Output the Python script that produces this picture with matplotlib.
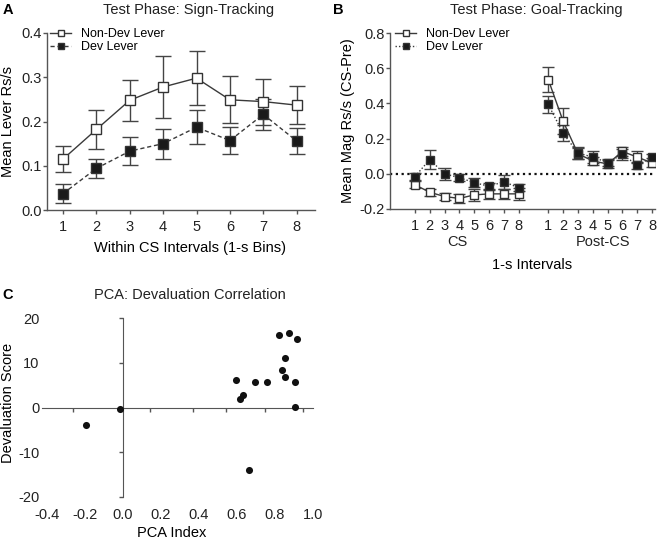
import numpy as np
import matplotlib
matplotlib.use("Agg")
import matplotlib.pyplot as plt

plt.rcParams['font.family'] = ['Liberation Sans', 'DejaVu Sans']
plt.rcParams['axes.unicode_minus'] = False

# --- A: sign-tracking (lever presses) ---
bins = [1, 2, 3, 4, 5, 6, 7, 8]
nondev_a = [0.115, 0.182, 0.248, 0.278, 0.298, 0.249, 0.245, 0.237]
nondev_a_sem = [0.030, 0.044, 0.046, 0.069, 0.061, 0.053, 0.052, 0.043]
dev_a = [0.037, 0.094, 0.133, 0.150, 0.187, 0.157, 0.216, 0.156]
dev_a_sem = [0.021, 0.021, 0.031, 0.034, 0.038, 0.031, 0.035, 0.030]

# --- B: goal-tracking (magazine entries), CS and post-CS ---
interval_labels = ['1', '2', '3', '4', '5', '6', '7', '8']
nondev_cs = [-0.062, -0.105, -0.129, -0.140, -0.120, -0.114, -0.114, -0.114]
nondev_cs_sem = [0.020, 0.020, 0.020, 0.025, 0.035, 0.030, 0.030, 0.035]
dev_cs = [-0.016, 0.081, 0.000, -0.022, -0.050, -0.071, -0.045, -0.079]
dev_cs_sem = [0.020, 0.055, 0.035, 0.020, 0.025, 0.020, 0.040, 0.020]
nondev_post = [0.535, 0.299, 0.114, 0.073, 0.056, 0.127, 0.095, 0.062]
nondev_post_sem = [0.070, 0.075, 0.030, 0.025, 0.025, 0.025, 0.035, 0.025]
dev_post = [0.394, 0.230, 0.118, 0.095, 0.064, 0.110, 0.049, 0.093]
dev_post_sem = [0.050, 0.045, 0.035, 0.035, 0.020, 0.030, 0.020, 0.020]

# --- C: PCA index vs devaluation score ---
pca_index = [-0.195, -0.016, 0.593, 0.616, 0.630, 0.695, 0.665, 0.760,
             0.821, 0.874, 0.918, 0.854, 0.837, 0.851, 0.907, 0.904]
deval_score = [-4.0, -0.4, 6.2, 1.9, 2.9, 5.8, -13.9, 5.7,
               16.2, 16.6, 15.3, 11.1, 8.3, 6.8, 5.7, 0.15]

line_col = '#3a3a3a'
axis_col = '#555555'

fig = plt.figure(figsize=(6.6, 5.39), dpi=100)
W, H = 660, 539


def px_axes(l, t, r, b):
    return fig.add_axes([l / W, 1 - b / H, (r - l) / W, (b - t) / H])


def style(ax):
    for s in ['top', 'right']:
        ax.spines[s].set_visible(False)
    for s in ['left', 'bottom']:
        ax.spines[s].set_color(axis_col)
        ax.spines[s].set_linewidth(1.0)
    ax.tick_params(colors=axis_col, labelcolor='#222222', labelsize=10.5,
                   length=3, width=1.0)


def series(ax, x, y, e, filled, ls, ms, cap):
    ax.errorbar(x, y, yerr=e, fmt='none', ecolor='#444444', elinewidth=1.0,
                capsize=cap, capthick=1.0, zorder=2)
    h, = ax.plot(x, y, color=line_col, lw=1.0, ls=ls, marker='s', ms=ms,
                 mfc='#1a1a1a' if filled else 'white', mec='#333333',
                 mew=1.0, zorder=3)
    return h


# ---------------- Panel A ----------------
axA = px_axes(47, 33, 315, 210)
style(axA)
hA1 = series(axA, bins, nondev_a, nondev_a_sem, False, '-', 6.5, 5.5)
hA2 = series(axA, bins, dev_a, dev_a_sem, True, (0, (3, 2)), 6.5, 5.5)
axA.set_xlim(0.52, 8.55)
axA.set_ylim(0, 0.4)
axA.set_xticks(bins)
axA.set_yticks([0, 0.1, 0.2, 0.3, 0.4])
axA.set_yticklabels(['0.0', '0.1', '0.2', '0.3', '0.4'])
axA.tick_params(axis='y', pad=1)
axA.tick_params(axis='x', pad=4)
axA.set_ylabel('Mean Lever Rs/s', fontsize=10.5, va='center')
axA.yaxis.set_label_coords(-0.146, 0.5)
axA.set_xlabel('Within CS Intervals (1-s Bins)', fontsize=10.5, va='center')
axA.xaxis.set_label_coords(0.534, -0.215)
axA.legend([hA1, hA2], ['Non-Dev Lever', 'Dev Lever'], loc='upper left',
           bbox_to_anchor=(50 / W, 1 - 28 / H), bbox_transform=fig.transFigure,
           frameon=False, fontsize=9, borderpad=0, borderaxespad=0,
           handlelength=1.7, handletextpad=0.8, labelspacing=0.1,
           markerscale=0.65)

# ---------------- Panel B ----------------
axB = px_axes(390, 33, 655, 209)
style(axB)
cs_pos = np.arange(1, 9)
post_pos = np.arange(10, 18)
axB.axhline(0, color='#111111', lw=1.6, ls=(0, (1, 1.6)), zorder=1)
dot = (0, (1, 1.5))
hB1 = series(axB, cs_pos, nondev_cs, nondev_cs_sem, False, '-', 5.5, 4.3)
series(axB, post_pos, nondev_post, nondev_post_sem, False, '-', 5.5, 4.3)
hB2 = series(axB, cs_pos, dev_cs, dev_cs_sem, True, dot, 5.5, 4.3)
series(axB, post_pos, dev_post, dev_post_sem, True, dot, 5.5, 4.3)
axB.set_xlim(-0.68, 17.2)
axB.set_ylim(-0.2, 0.8)
axB.set_xticks(np.concatenate([cs_pos, post_pos]))
axB.set_xticklabels(interval_labels + interval_labels)
axB.set_yticks([-0.2, 0, 0.2, 0.4, 0.6, 0.8])
axB.set_yticklabels(['-0.2', '0.0', '0.2', '0.4', '0.6', '0.8'])
axB.tick_params(axis='y', pad=1)
axB.tick_params(axis='x', pad=4)
axB.set_ylabel('Mean Mag Rs/s (CS-Pre)', fontsize=10.5, va='center')
axB.yaxis.set_label_coords(-0.158, 0.5)
axB.text(0.253, -0.19, 'CS', transform=axB.transAxes, ha='center',
         va='center', fontsize=10.5, color='#222222')
axB.text(0.804, -0.19, 'Post-CS', transform=axB.transAxes, ha='center',
         va='center', fontsize=10.5, color='#222222')
axB.set_xlabel('1-s Intervals', fontsize=10.5, va='center')
axB.xaxis.set_label_coords(0.536, -0.318)
axB.legend([hB1, hB2], ['Non-Dev Lever', 'Dev Lever'], loc='upper left',
           bbox_to_anchor=(395 / W, 1 - 28 / H), bbox_transform=fig.transFigure,
           frameon=False, fontsize=9, borderpad=0, borderaxespad=0,
           handlelength=1.7, handletextpad=0.8, labelspacing=0.1,
           markerscale=0.75)

# ---------------- Panel C ----------------
axC = px_axes(42, 318, 313, 497)
for s in axC.spines.values():
    s.set_visible(False)
xmin, xmax = -0.426, 1.0
axC.set_xlim(xmin, xmax)
axC.set_ylim(-20, 20)
axC.scatter(pca_index, deval_score, s=26, color='#111111', zorder=3,
            linewidths=0)
axC.set_xticks([-0.4, -0.2, 0.0, 0.2, 0.4, 0.6, 0.8, 1.0])
axC.set_xticklabels(['-0.4', '-0.2', '0.0', '0.2', '0.4', '0.6', '0.8', '1.0'])
axC.set_yticks([-20, -10, 0, 10, 20])
axC.tick_params(length=0, labelsize=10.5, labelcolor='#222222')
axC.tick_params(axis='x', pad=8)
axC.tick_params(axis='y', pad=2)
# crossing axes through the origin
secx = axC.secondary_xaxis(0.5)
secx.set_alignment('bottom')
secx.spines['bottom'].set_color(axis_col)
secx.set_xticks([-0.262, 0.142, 0.367, 0.54, 0.749, 0.946])
secx.set_xticklabels([])
secx.tick_params(length=3, width=1.0, colors=axis_col)
secy = axC.secondary_yaxis((0 - xmin) / (xmax - xmin))
secy.spines['left'].set_color(axis_col)
secy.set_yticks([-20, -10, 10, 20])
secy.set_yticklabels([])
secy.tick_params(length=3, width=1.0, colors=axis_col)
axC.set_ylabel('Devaluation Score', fontsize=10.5, va='center')
axC.yaxis.set_label_coords(-0.125, 0.528)
axC.set_xlabel('PCA Index', fontsize=10.5, va='center')
axC.xaxis.set_label_coords(0.48, -0.201)

# titles and panel letters
fig.text(189 / W, 1 - 10 / H, 'Test Phase: Sign-Tracking', ha='center',
         va='center', fontsize=10.5, color='#222222')
fig.text(536 / W, 1 - 10 / H, 'Test Phase: Goal-Tracking', ha='center',
         va='center', fontsize=10.5, color='#222222')
fig.text(190 / W, 1 - 295 / H, 'PCA: Devaluation Correlation', ha='center',
         va='center', fontsize=10.5, color='#222222')
fig.text(8 / W, 1 - 10 / H, 'A', ha='center', va='center', fontsize=10.5,
         fontweight='bold')
fig.text(338 / W, 1 - 10 / H, 'B', ha='center', va='center', fontsize=10.5,
         fontweight='bold')
fig.text(8 / W, 1 - 295 / H, 'C', ha='center', va='center', fontsize=10.5,
         fontweight='bold')

fig.savefig('out.png', dpi=100)
